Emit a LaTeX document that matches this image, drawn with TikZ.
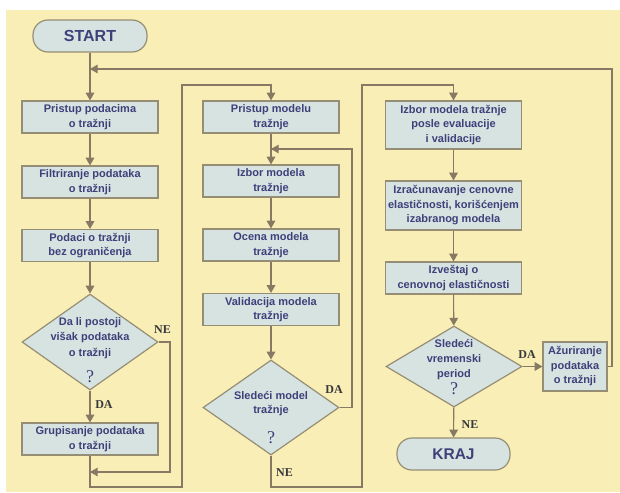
\documentclass[tikz,border=0pt]{standalone}
\usepackage{fontspec}
\setmainfont{Liberation Sans}
\newfontfamily\answerfont{Liberation Serif}
\usepackage{tikz}
\usetikzlibrary{shapes.geometric}
\usetikzlibrary{arrows}
\definecolor{bgyellow}{RGB}{249,238,181}
\definecolor{boxfill}{RGB}{214,227,225}
\definecolor{boxline}{RGB}{150,142,116}
\definecolor{wire}{RGB}{135,122,100}
\definecolor{ink}{RGB}{62,64,122}
\definecolor{answerink}{RGB}{55,55,60}
\tikzstyle{process}=[rectangle,draw=boxline,fill=boxfill,line width=1.2pt,inner sep=0mm,minimum width=136pt,minimum height=32pt,align=center,text=ink,font=\bfseries\fontsize{11}{14.5}\selectfont]
\tikzstyle{terminal}=[rectangle,rounded corners=15pt,draw=boxline,fill=boxfill,line width=1.2pt,inner sep=0mm,minimum width=114pt,minimum height=32pt,text=ink,font=\bfseries\fontsize{16}{16}\selectfont]
\tikzstyle{decision}=[diamond,draw=boxline,fill=boxfill,line width=1.2pt,inner sep=0mm,minimum width=136pt,minimum height=96pt]
\tikzstyle{dtext}=[align=center,inner sep=0mm,text=ink,font=\bfseries\fontsize{11}{15.5}\selectfont]
\tikzstyle{qmark}=[inner sep=0mm,text=ink,font=\answerfont\fontsize{18}{18}\selectfont]
\tikzstyle{answer}=[inner sep=0mm,text=answerink,font=\answerfont\bfseries\fontsize{12}{12}\selectfont]
\tikzstyle{wireline}=[draw=wire,line width=1.1pt]
\tikzstyle{flow}=[wireline,->,>=triangle 60]

\begin{document}
\begin{tikzpicture}[x=1pt,y=-1pt]
  \useasboundingbox (0,0) rectangle (620,492);
  \fill[bgyellow] (6,10) rectangle (620,492);
  % first column: data
  \node[terminal] at (90,36) (start) {START};
  \node[process] at (90,117) (access) {Pristup podacima\\o tražnji};
  \node[process] at (90,182) (filter) {Filtriranje podataka\\o tražnji};
  \node[process] at (90,245.5) (unbound) {Podaci o tražnji\\bez ograničenja};
  \node[decision] at (90,342) (surplus) {};
  \node[dtext] at (90,338) (surplustxt) {Da li postoji\\višak podataka\\o tražnji};
  \node[qmark] at (90,377) (surplusq) {?};
  \node[process] at (90,439) (group) {Grupisanje podataka\\o tražnji};
  \node[answer] at (104,405) (surplusyes) {DA};
  \node[answer] at (162.5,330) (surplusno) {NE};
  % second column: models
  \node[process] at (271,117) (pmodel) {Pristup modelu\\tražnje};
  \node[process] at (271,181) (select) {Izbor modela\\tražnje};
  \node[process] at (271,245) (estim) {Ocena modela\\tražnje};
  \node[process] at (271,309.5) (valid) {Validacija modela\\tražnje};
  \node[decision,minimum height=95pt] at (271,407.5) (nextmod) {};
  \node[dtext,font=\bfseries\fontsize{11}{14}\selectfont] at (271,404) (nextmodtxt) {Sledeći model\\tražnje};
  \node[qmark] at (271,438) (nextmodq) {?};
  \node[answer] at (334,390) (nextmodyes) {DA};
  \node[answer] at (284.5,473) (nextmodno) {NE};
  % third column: elasticity
  \node[process,minimum height=48pt] at (453.5,125) (choice) {Izbor modela tražnje\\posle evaluacije\\i validacije};
  \node[process,minimum height=49pt] at (453.5,205.5) (calc) {Izračunavanje cenovne\\elastičnosti, korišćenjem\\izabranog modela};
  \node[process] at (453.5,278) (report) {Izveštaj o\\cenovnoj elastičnosti};
  \node[decision,minimum height=81pt] at (454,366.5) (nextper) {};
  \node[dtext,font=\bfseries\fontsize{11}{15}\selectfont] at (454,360) (nextpertxt) {Sledeći\\vremenski\\period};
  \node[qmark] at (454,389) (nextperq) {?};
  \node[process,minimum width=64pt,minimum height=49pt] at (575,366.5) (update) {Ažuriranje\\podataka\\o tražnji};
  \node[terminal,minimum width=113pt,font=\bfseries\fontsize{15.5}{15.5}\selectfont] at (453.5,454) (finish) {KRAJ};
  \node[answer] at (527,355) (nextperyes) {DA};
  \node[answer] at (470,425) (nextperno) {NE};
  % joints
  \coordinate (loopin) at (90,69);
  \coordinate (groupin) at (90,472);
  \coordinate (selin) at (271,149);
  % connectors
  \draw[flow] (start) -- (access);
  \draw[flow] (access) -- (filter);
  \draw[flow] (filter) -- (unbound);
  \draw[flow] (unbound) -- (surplus);
  \draw[flow] (surplus) -- (group);
  \draw[flow] (surplus.east) -| (170,472) -- (groupin);
  \draw[flow] (group) -- (90,487) -| (182,85) -| (pmodel.north);
  \draw[flow] (pmodel) -- (select);
  \draw[flow] (select) -- (estim);
  \draw[flow] (estim) -- (valid);
  \draw[flow] (valid) -- (nextmod);
  \draw[flow] (nextmod.east) -| (352,149) -- (selin);
  \draw[flow] (nextmod.south) -- (271,487) -| (362,85) -| (choice.north);
  \draw[flow] (choice) -- (calc);
  \draw[flow] (calc) -- (report);
  \draw[flow] (report) -- (nextper);
  \draw[flow] (nextper) -- (update);
  \draw[flow] (nextper) -- (finish);
  \draw[flow] (update.east) -| (612,69) -- (loopin);
\end{tikzpicture}
\end{document}
